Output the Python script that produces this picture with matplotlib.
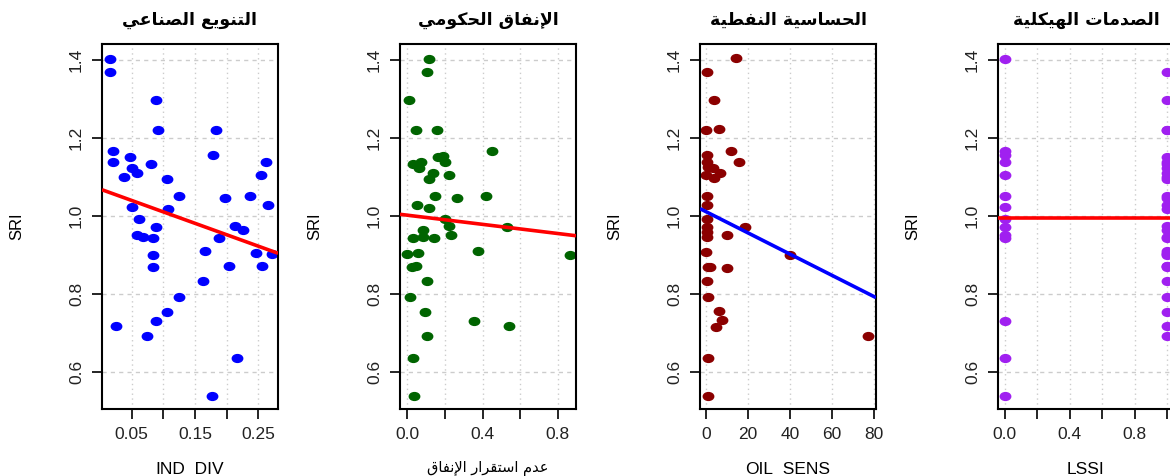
import numpy as np
import matplotlib
matplotlib.use("Agg")
import matplotlib.pyplot as plt
from matplotlib.path import Path
from matplotlib.transforms import Affine2D

# --- data ---
ind_div = [0.016, 0.016, 0.020, 0.020, 0.047, 0.050, 0.037, 0.058, 0.081, 0.089, 0.092,
           0.105, 0.124, 0.108, 0.050, 0.062, 0.058, 0.068, 0.084, 0.089, 0.083, 0.083,
           0.025, 0.074, 0.089, 0.105, 0.124, 0.163, 0.166, 0.176, 0.179, 0.183, 0.188,
           0.197, 0.204, 0.213, 0.216, 0.226, 0.237, 0.246, 0.254, 0.256, 0.262, 0.265, 0.271]
sri_1 = [1.403, 1.368, 1.167, 1.139, 1.150, 1.122, 1.101, 1.109, 1.132, 1.297, 1.221,
         1.095, 1.050, 1.019, 1.023, 0.992, 0.950, 0.947, 0.944, 0.971, 0.899, 0.868,
         0.717, 0.693, 0.731, 0.755, 0.792, 0.834, 0.909, 0.538, 1.156, 1.221, 0.944,
         1.047, 0.871, 0.974, 0.635, 0.964, 1.050, 0.906, 1.105, 0.871, 1.139, 1.027, 0.903]

spend_instab = [0.117, 0.106, 0.011, 0.046, 0.160, 0.449, 0.165, 0.188, 0.200, 0.028, 0.071,
                0.064, 0.138, 0.117, 0.224, 0.147, 0.263, 0.419, 0.053, 0.117, 0.200, 0.224,
                0.532, 0.085, 0.028, 0.085, 0.142, 0.231, 0.378, 0.000, 0.058, 0.866, 0.023,
                0.046, 0.106, 0.014, 0.094, 0.355, 0.543, 0.106, 0.028, 0.035]
sri_2 = [1.403, 1.368, 1.297, 1.221, 1.221, 1.167, 1.150, 1.155, 1.139, 1.132, 1.138,
         1.122, 1.109, 1.095, 1.105, 1.050, 1.047, 1.050, 1.027, 1.020, 0.992, 0.974,
         0.971, 0.964, 0.944, 0.947, 0.944, 0.951, 0.909, 0.903, 0.906, 0.899, 0.868,
         0.871, 0.834, 0.792, 0.755, 0.731, 0.717, 0.693, 0.635, 0.538]

oil_sens = [14.2, 0.3, 3.8, 0.0, 6.4, 12.0, 15.9, 0.3, 0.5, 0.8, 3.5, 6.7, 0.0, 4.0, 0.3,
            0.3, 0.3, 0.3, 18.6, 0.3, 10.2, 0.0, 40.2, 0.8, 1.8, 10.2, 0.3, 0.8, 6.4, 7.8,
            4.6, 77.1, 0.8, 0.8, 0.3]
sri_3 = [1.404, 1.368, 1.297, 1.221, 1.222, 1.167, 1.139, 1.156, 1.139, 1.126, 1.122,
         1.109, 1.105, 1.097, 1.050, 1.027, 0.992, 0.973, 0.973, 0.947, 0.951, 0.907,
         0.899, 0.870, 0.870, 0.867, 0.833, 0.792, 0.756, 0.732, 0.716, 0.693, 0.637,
         0.539, 0.960]

lssi = [0] * 14 + [1] * 31
sri_4 = [1.403, 1.167, 1.156, 1.139, 1.105, 1.050, 1.023, 0.992, 0.971, 0.950, 0.944,
         0.731, 0.635, 0.538,
         1.368, 1.297, 1.221, 1.221, 1.150, 1.139, 1.132, 1.122, 1.109, 1.101, 1.095,
         1.050, 1.047, 1.027, 1.019, 0.974, 0.964, 0.947, 0.944, 0.909, 0.906, 0.903,
         0.899, 0.871, 0.871, 0.868, 0.834, 0.792, 0.755, 0.717, 0.693]

# fitted lines (intercept, slope) as drawn
fit_1 = (1.069, -0.586)
fit_2 = (1.002, -0.0587)
fit_3 = (1.011, -0.00272)
fit_4 = (0.994, 0.0)

titles = ["التنويع الصناعي", "الإنفاق الحكومي", "الحساسية النفطية", "الصدمات الهيكلية"]
xlabels = ["IND_DIV", "عدم استقرار الإنفاق", "OIL_SENS", "LSSI"]

# --- tiny Arabic shaper (matplotlib draws left-to-right, no joining) ---
FORMS = {
    'ا': (0xFE8D, 0xFE8E, None, None), 'إ': (0xFE87, 0xFE88, None, None),
    'ت': (0xFE95, 0xFE96, 0xFE97, 0xFE98), 'ة': (0xFE93, 0xFE94, None, None),
    'ح': (0xFEA1, 0xFEA2, 0xFEA3, 0xFEA4), 'د': (0xFEA9, 0xFEAA, None, None),
    'ر': (0xFEAD, 0xFEAE, None, None), 'س': (0xFEB1, 0xFEB2, 0xFEB3, 0xFEB4),
    'ص': (0xFEB9, 0xFEBA, 0xFEBB, 0xFEBC), 'ط': (0xFEC1, 0xFEC2, 0xFEC3, 0xFEC4),
    'ع': (0xFEC9, 0xFECA, 0xFECB, 0xFECC), 'ف': (0xFED1, 0xFED2, 0xFED3, 0xFED4),
    'ق': (0xFED5, 0xFED6, 0xFED7, 0xFED8), 'ك': (0xFED9, 0xFEDA, 0xFEDB, 0xFEDC),
    'ل': (0xFEDD, 0xFEDE, 0xFEDF, 0xFEE0), 'م': (0xFEE1, 0xFEE2, 0xFEE3, 0xFEE4),
    'ن': (0xFEE5, 0xFEE6, 0xFEE7, 0xFEE8), 'ه': (0xFEE9, 0xFEEA, 0xFEEB, 0xFEEC),
    'و': (0xFEED, 0xFEEE, None, None), 'ي': (0xFEF1, 0xFEF2, 0xFEF3, 0xFEF4),
}
LAMALEF = {'ا': (0xFEFB, 0xFEFC), 'إ': (0xFEF9, 0xFEFA)}


def shape(text):
    out = []
    i = 0
    while i < len(text):
        c = text[i]
        if c not in FORMS:
            out.append(c)
            i += 1
            continue
        prev = text[i - 1] if i > 0 else None
        prev_joins = prev in FORMS and FORMS[prev][2] is not None
        if c == 'ل' and i + 1 < len(text) and text[i + 1] in LAMALEF:
            iso, fin = LAMALEF[text[i + 1]]
            out.append(chr(fin if prev_joins else iso))
            i += 2
            continue
        nxt = text[i + 1] if i + 1 < len(text) else None
        iso, fin, ini, med = FORMS[c]
        next_joins = ini is not None and nxt in FORMS
        if prev_joins and next_joins:
            f = med
        elif prev_joins:
            f = fin
        elif next_joins:
            f = ini
        else:
            f = iso
        out.append(chr(f))
        i += 1
    return ''.join(reversed(out))


# --- figure ---
W, H = 1170, 476
fig = plt.figure(figsize=(W / 100, H / 100), dpi=100)
plt.rcParams['font.family'] = ['Liberation Sans', 'DejaVu Sans']

ellipse = Path.unit_circle().transformed(Affine2D().scale(1.0, 0.75))

panels = [
    (102, ind_div, sri_1, fit_1, (0.003, 0.281), [0.05, 0.10, 0.15, 0.20, 0.25],
     ['0.05', '', '0.15', '', '0.25'], '#0000FF', 'red'),
    (400, spend_instab, sri_2, fit_2, (-0.039, 0.8975), [0.0, 0.2, 0.4, 0.6, 0.8],
     ['0.0', '', '0.4', '', '0.8'], '#006400', 'red'),
    (700, oil_sens, sri_3, fit_3, (-2.87, 81.0), [0, 20, 40, 60, 80],
     ['0', '20', '40', '60', '80'], '#8B0000', 'blue'),
    (998, lssi, sri_4, fit_4, (-0.04, 1.04), [0.0, 0.2, 0.4, 0.6, 0.8, 1.0],
     ['0.0', '', '0.4', '', '0.8', ''], '#A020F0', 'red'),
]

ax_w, ax_top, ax_bot = 176, 44, 409
yticks = [0.6, 0.8, 1.0, 1.2, 1.4]

for k, (left, xs, ys, fit, xlim, xt, xtl, col, lcol) in enumerate(panels):
    ax = fig.add_axes([left / W, (H - ax_bot) / H, ax_w / W, (ax_bot - ax_top) / H])
    ax.set_xlim(*xlim)
    ax.set_ylim(0.505, 1.441)

    for v in xt:
        ax.axvline(v, color='#cccccc', lw=1.0, ls=(0, (1, 2.5)), zorder=0)
    for v in yticks:
        ax.axhline(v, color='#cccccc', lw=1.0, ls=(0, (3, 3)), zorder=0)

    ax.plot(xs, ys, ls='none', marker=ellipse, ms=7.5, color=col, mec=col, zorder=2)

    xx = np.array(xlim)
    ax.plot(xx, fit[0] + fit[1] * xx, color=lcol, lw=2.6, zorder=3, solid_capstyle='butt')

    ax.set_xticks(xt)
    ax.set_xticklabels(xtl, fontsize=12.5, color='#222222')
    ax.set_yticks(yticks)
    ax.set_yticklabels([f'{v:.1f}' for v in yticks], fontsize=12.5, rotation=90,
                       va='center', color='#222222')
    ax.tick_params(direction='out', length=7, width=1.2, pad=6)
    for s in ax.spines.values():
        s.set_linewidth(1.5)

    ax.text(0.5, 1 + 24 / 365, shape(titles[k]), transform=ax.transAxes, ha='center',
            va='center', fontsize=12.5, fontweight='bold', family='DejaVu Sans')
    ax.text(-85 / ax_w, 0.5, 'SRI', transform=ax.transAxes, rotation=90, ha='center',
            va='center', fontsize=12)
    lab = xlabels[k]
    if k == 1:
        ax.text(0.5, -60 / 365, shape(lab), transform=ax.transAxes, ha='center',
                va='center', fontsize=10.5, family='DejaVu Sans')
    else:
        ax.text(0.5, -60 / 365, lab, transform=ax.transAxes, ha='center',
                va='center', fontsize=12.5)

fig.savefig('out.png', dpi=100)
